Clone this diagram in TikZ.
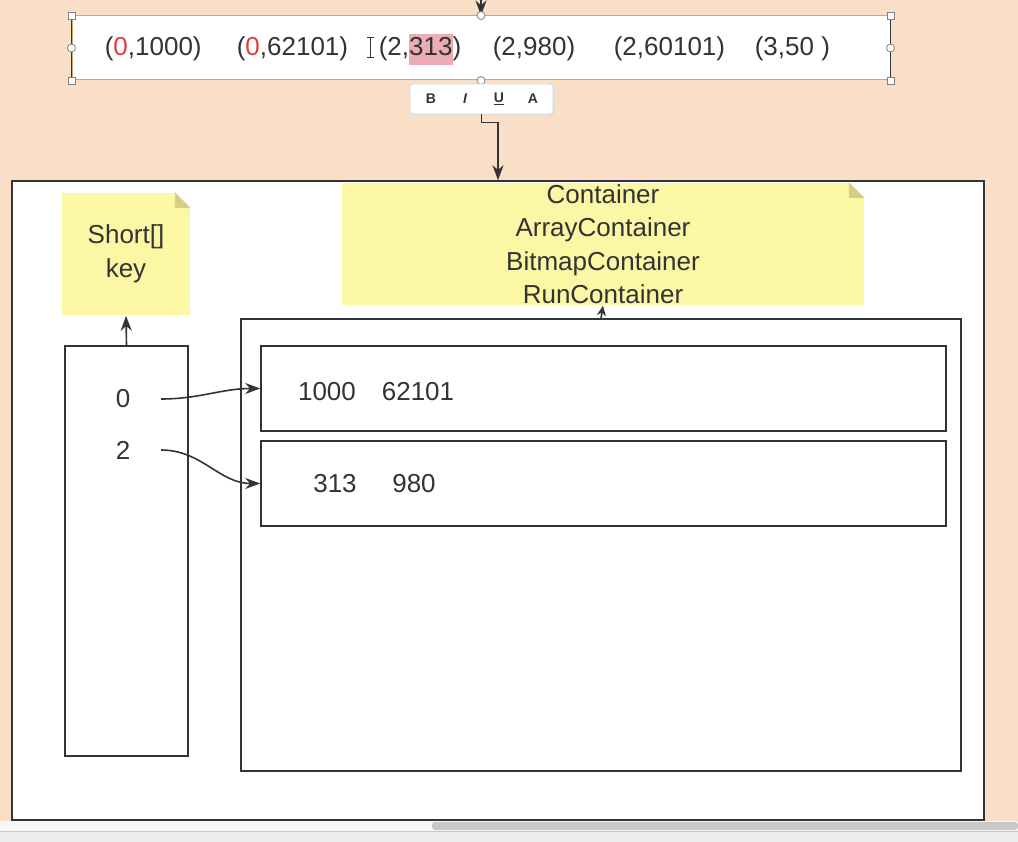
\documentclass[tikz,border=0pt]{standalone}
\usepackage{fontspec}
\setmainfont{Liberation Sans}
\usetikzlibrary{arrows.meta,positioning}

\definecolor{peach}{RGB}{249,223,199}
\definecolor{notey}{RGB}{252,247,165}
\definecolor{foldy}{RGB}{214,206,135}
\definecolor{ink}{RGB}{51,51,51}
\definecolor{zred}{RGB}{222,62,62}
\definecolor{hlpink}{RGB}{236,172,182}
\definecolor{tanline}{RGB}{196,170,130}
\definecolor{barbg}{RGB}{238,238,238}
\definecolor{thumb}{RGB}{200,200,200}

\newcommand{\hlnum}[1]{{\setlength{\fboxsep}{0pt}\colorbox{hlpink}{\strut #1}}}
\newcommand{\rz}{\textcolor{zred}{0}}

\begin{document}
\begin{tikzpicture}[
    x=1pt, y=-1pt,
    >=Stealth,
    line width=1.6pt,
    box/.style={rectangle, draw=ink, fill=white, inner sep=0pt, line width=1.6pt},
    note/.style={rectangle, fill=notey, inner sep=0pt, align=center, text=ink, font=\fontsize{26}{33.5}\selectfont},
    num/.style={font=\fontsize{26}{31}\selectfont, text=ink, inner sep=0pt},
    tool/.style={font=\fontsize{14}{16}\selectfont\bfseries, text=ink, inner sep=0pt},
    handle/.style={draw=gray, fill=white, line width=0.8pt, minimum size=7pt, inner sep=0pt},
    link/.style={draw=ink, line width=1.6pt, -{Stealth[length=15pt,width=11pt]}}
]
    % background and bottom bar
    \useasboundingbox (0,0) rectangle (1018,842);
    \fill[peach] (0,0) rectangle (1018,842);
    \fill[white!97!black] (0,821) rectangle (1018,831);
    \fill[thumb, rounded corners=3pt] (432,822) rectangle (1018,830);
    \fill[barbg] (0,832) rectangle (1018,842);
    \draw[thumb, line width=0.8pt] (0,831.5) -- (1018,831.5);

    % outer frame
    \node[box, minimum width=972pt, minimum height=639pt] (outer) at (498,500.5) {};

    % pairs being edited
    \node[box, draw=tanline, line width=1pt, minimum width=818pt, minimum height=64pt] (pairs) at (481,48) {};
    \draw[ink, line width=1.4pt] (pairs.north west) -- (pairs.south west);
    \draw[ink, line width=1.4pt] (pairs.north east) -- (pairs.south east);
    \coordinate (feed) at (481,-4);
    \draw[link] (feed) -- (pairs.north);
    \foreach \a in {north west, north east, south west, south east}
        \node[handle] at (pairs.\a) {};
    \foreach \a in {west, east, north, south}
        \node[handle, circle, minimum size=8pt] at (pairs.\a) {};

    \node[num, anchor=base west] (p1) at (104,56) {(\rz,1000)};
    \node[num, anchor=base west] (p2) at (236,56) {(\rz,62101)};
    \node[num, anchor=base west] (p3) at (378,56) {(2,\hlnum{313})};
    \node[num, anchor=base west] (p4) at (492,56) {(2,980)};
    \node[num, anchor=base west] (p5) at (613,56) {(2,60101)};
    \node[num, anchor=base west] (p6) at (754,56) {(3,50 )};
    % text cursor
    \draw[ink, line width=1pt] (370,38) -- (370,57);
    \draw[ink, line width=1pt] (366.5,37.5) -- (373.5,37.5) (366.5,57.5) -- (373.5,57.5);

    % format toolbar
    \fill[black!12, rounded corners=3pt] (411,86) rectangle (555,116);
    \node[draw=black!15, fill=white, rounded corners=3pt, line width=0.8pt,
          minimum width=143pt, minimum height=30pt, inner sep=0pt] (tbar) at (481.5,99) {};
    \node[tool] (tb) at (431,99) {B};
    \node[tool] (ti) at (465,99) {\itshape I};
    \node[tool] (tu) at (499,99) {\underline{U}};
    \node[tool] (ta) at (533,99) {A};
    \draw[link] (tbar.south) -- ++(0,8) -| (outer.north);

    % notes
    \node[note, minimum width=522pt, minimum height=122pt] (cnote) at (603,244)
        {Container\\ArrayContainer\\BitmapContainer\\RunContainer};
    \node[note, minimum width=128pt, minimum height=122pt] (keynote) at (126,254) {Short[]\\key};
    \foreach \n in {cnote, keynote} {
        \fill[white] ([xshift=-16pt]\n.north east) -- (\n.north east) -- ([yshift=-16pt]\n.north east) -- cycle;
        \fill[foldy] ([xshift=-16pt]\n.north east) -- ([xshift=-16pt,yshift=-16pt]\n.north east) -- ([yshift=-16pt]\n.north east) -- cycle;
    }

    % key array
    \node[box, minimum width=123pt, minimum height=410pt] (keys) at (126.5,551) {};
    \node[num] (k0) at (123,399) {0};
    \node[num] (k2) at (123,450) {2};
    \draw[link] (keys.north) -- (keynote.south);

    % containers
    \node[box, minimum width=720pt, minimum height=452pt] (cbox) at (601,545) {};
    \node[box, minimum width=685pt, minimum height=85pt] (row1) at (603.5,388.5) {};
    \node[box, minimum width=685pt, minimum height=85pt] (row2) at (603.5,483.5) {};
    \node[num] (v1) at (327,392) {1000};
    \node[num] (v2) at (418,392) {62101};
    \node[num] (v3) at (335,484) {313};
    \node[num] (v4) at (414,484) {980};
    \draw[link, -{Stealth[length=10pt,width=9pt]}] (cbox.north) -- (cnote.south);

    \draw[link] ([xshift=30pt]k0.east) to[out=0, in=180] (row1.west);
    \draw[link] ([xshift=30pt]k2.east) to[out=0, in=180] (row2.west);
\end{tikzpicture}
\end{document}
